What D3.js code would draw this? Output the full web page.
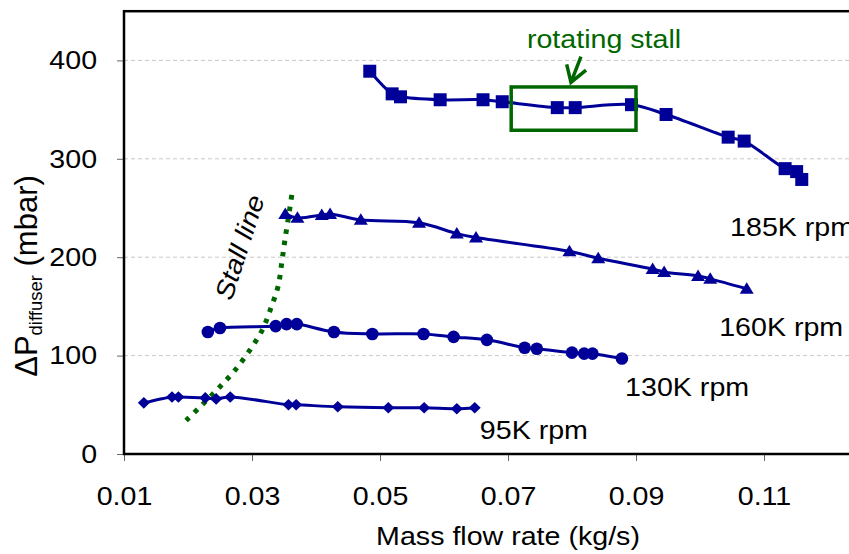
<!DOCTYPE html>
<html><head><meta charset="utf-8">
<script src="https://cdn.jsdelivr.net/npm/d3@7"></script>
<style>body{margin:0;background:#fff;overflow:hidden} svg{display:block;font-family:"Liberation Sans",Arial,sans-serif}</style>
</head><body><svg id="c" width="849" height="554"></svg>
<script>
// ---- data ----
const xTicks = [0.01, 0.03, 0.05, 0.07, 0.09, 0.11];
const yTicks = [0, 100, 200, 300, 400];

const flow185 = [0.0484,0.0519,0.0532,0.0594,0.0661,0.0691,0.0777,0.0805,0.0893,0.0947,0.1044,0.1069,0.1133,0.1151,0.1159];
const dp185   = [389,366,363,360,360,358,352,352,355,345,322,318,290,287,279];

const flow160 = [0.0352,0.0371,0.0409,0.0422,0.0470,0.0561,0.0620,0.0650,0.0796,0.0841,0.0926,0.0944,0.0997,0.1016,0.1073];
const dp160   = [244,240,243,244,238,235,224,220,206,199,188,185,181,178,168];

const flow130 = [0.0231,0.0250,0.0337,0.0354,0.0370,0.0428,0.0488,0.0568,0.0615,0.0667,0.0726,0.0745,0.0800,0.0819,0.0832,0.0878];
const dp130   = [124,128,130,132,132,124,122,122,119,116,108,107,103,102,102,97];

const flow95  = [0.0131,0.0175,0.0185,0.0227,0.0244,0.0266,0.0357,0.0369,0.0434,0.0513,0.0569,0.0620,0.0648];
const dp95    = [52,58,58,57,56,58,50,50,48,47,47,46,47];

const stallFlow = [0.0197,0.0222,0.0248,0.0272,0.0295,0.0316,0.0331,0.0341,0.0347,0.0352,0.0358,0.0363];
const stallDp   = [34,50,67,84,104,126,151,171,197,220,245,267];

const seriesNames = ['185K rpm','160K rpm','130K rpm','95K rpm'];

// ---- annotation placement (data coordinates) ----
const labelFlow = [0.1047, 0.1030, 0.0883, 0.0656];
const labelDp   = [221.5, 120, 59, 15.2];
const boxFlow = [0.0705, 0.0900];
const boxDp   = [329, 373];
const arrowFlow = [0.0814, 0.07984, 0.07917, 0.08219]; // tail, tip, left arm, right arm
const arrowDp   = [403.8, 377.6, 396.0, 390.2];

// ---- drawing ----
const svg = d3.select('#c');
const FONT = '"Liberation Sans", Arial, sans-serif';
const FS = 26, SX = 1.1;
const BLUE = '#000099', GREEN = '#006600';

const x = d3.scaleLinear().domain([0.01, 0.13]).range([124, 892]);
const y = d3.scaleLinear().domain([0, 450]).range([454, 11.2]);

// gridlines
svg.append('g').selectAll('line').data(yTicks.filter(d => d > 0)).join('line')
  .attr('x1', x(0.01)).attr('x2', x(0.13))
  .attr('y1', d => y(d)).attr('y2', d => y(d))
  .attr('stroke', '#c8c8c8').attr('stroke-width', 1).attr('stroke-dasharray', '4,3');

// x axis
const ax = svg.append('g').attr('transform', `translate(0,${y(0)})`)
  .call(d3.axisBottom(x).tickValues(xTicks).tickSize(7).tickPadding(26).tickFormat(d3.format('.2f')));
ax.attr('font-size', null).attr('font-family', null);
ax.select('.domain').remove();
ax.selectAll('.tick line').attr('stroke', '#666');
ax.selectAll('.tick text').attr('font-size', FS).attr('font-family', FONT).attr('fill', '#000')
  .attr('transform', `scale(${SX},1)`);

// y axis
const ay = svg.append('g').attr('transform', `translate(${x(0.01)},0)`)
  .call(d3.axisLeft(y).tickValues(yTicks).tickSize(7).tickPadding(17.5));
ay.attr('font-size', null).attr('font-family', null);
ay.select('.domain').remove();
ay.selectAll('.tick line').attr('stroke', '#666');
ay.selectAll('.tick text').attr('font-size', FS).attr('font-family', FONT).attr('fill', '#000')
  .attr('transform', `scale(${SX},1)`);

// frame
svg.append('rect')
  .attr('x', x(0.01)).attr('y', y(450))
  .attr('width', x(0.13) - x(0.01)).attr('height', y(0) - y(450))
  .attr('fill', 'none').attr('stroke', '#000').attr('stroke-width', 2.5);

// stall line
const lineGen = d3.line().x(d => x(d[0])).y(d => y(d[1])).curve(d3.curveCatmullRom.alpha(0.5));
svg.append('path').datum(d3.zip(stallFlow, stallDp))
  .attr('d', lineGen).attr('fill', 'none').attr('stroke', GREEN)
  .attr('stroke-width', 5).attr('stroke-dasharray', '4.5,7');

// series
const series = [
  {f: flow185, p: dp185, m: 'square'},
  {f: flow160, p: dp160, m: 'triangle'},
  {f: flow130, p: dp130, m: 'circle'},
  {f: flow95,  p: dp95,  m: 'diamond'}
];
const markerPath = {
  square:   'M-6.5,-6.5H6.5V6.5H-6.5Z',
  triangle: 'M0,-6.5L7,5L-7,5Z',
  diamond:  'M0,-5.8L6,0L0,5.8L-6,0Z'
};
series.forEach(s => {
  const pts = d3.zip(s.f, s.p);
  svg.append('path').datum(pts).attr('d', lineGen)
    .attr('fill', 'none').attr('stroke', BLUE).attr('stroke-width', 3);
  const g = svg.append('g');
  if (s.m === 'circle') {
    g.selectAll('circle').data(pts).join('circle')
      .attr('cx', d => x(d[0])).attr('cy', d => y(d[1])).attr('r', 6.3).attr('fill', BLUE);
  } else {
    g.selectAll('path').data(pts).join('path')
      .attr('transform', d => `translate(${x(d[0])},${y(d[1])})`)
      .attr('d', markerPath[s.m]).attr('fill', BLUE);
  }
});

// rotating stall box & arrow
svg.append('rect')
  .attr('x', x(boxFlow[0])).attr('y', y(boxDp[1]))
  .attr('width', x(boxFlow[1]) - x(boxFlow[0])).attr('height', y(boxDp[0]) - y(boxDp[1]))
  .attr('fill', 'none').attr('stroke', GREEN).attr('stroke-width', 3.5);
const ap = arrowFlow.map((f, i) => [x(f), y(arrowDp[i])]);
svg.append('path')
  .attr('d', `M${ap[0]}L${ap[1]}M${ap[2]}L${ap[1]}L${ap[3]}`)
  .attr('fill', 'none').attr('stroke', GREEN).attr('stroke-width', 3.5)
  .attr('stroke-linejoin', 'miter');

// text helper
function txt(px, py, str, opt = {}) {
  return svg.append('text')
    .attr('transform', `translate(${px},${py}) rotate(${opt.rot || 0}) scale(${opt.sx || SX},1)`)
    .attr('text-anchor', opt.anchor || 'start')
    .attr('font-size', opt.fs || FS)
    .attr('font-family', FONT)
    .attr('font-style', opt.italic ? 'italic' : 'normal')
    .attr('fill', opt.fill || '#000')
    .text(str);
}

seriesNames.forEach((n, i) => txt(x(labelFlow[i]), y(labelDp[i]), n));
txt(x(0.0850), y(412.6), 'rotating stall', {anchor: 'middle', fill: GREEN});
txt(x(0.0294), y(207.3), 'Stall line', {anchor: 'middle', rot: -72, italic: true});
txt(x(0.0700), 545, 'Mass flow rate (kg/s)', {anchor: 'middle'});

// y axis title
const yt = svg.append('text')
  .attr('transform', `translate(37,276) rotate(-90)`)
  .attr('text-anchor', 'middle').attr('font-family', FONT).attr('font-size', 31).attr('fill', '#000');
yt.append('tspan').text('ΔP');
yt.append('tspan').attr('font-size', 18.5).attr('dy', 5).text('diffuser');
yt.append('tspan').attr('dy', -5).text(' (mbar)');
</script></body></html>
